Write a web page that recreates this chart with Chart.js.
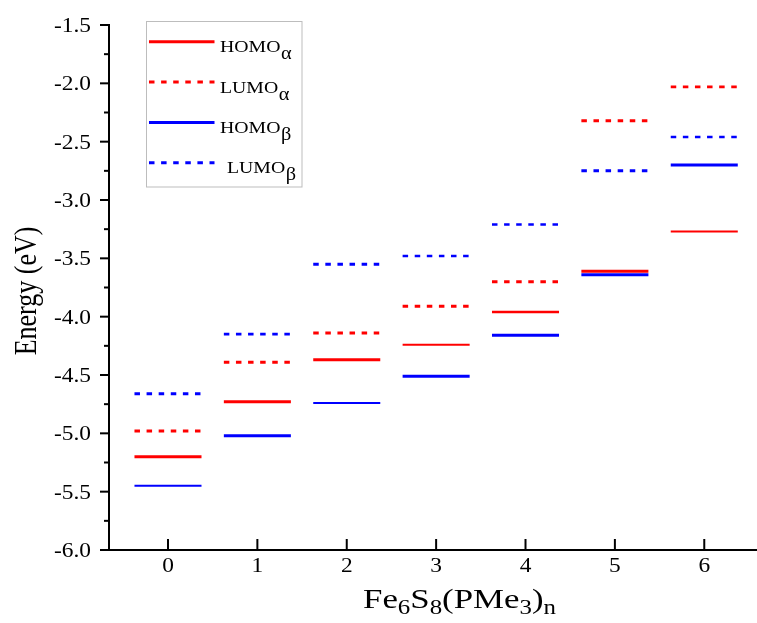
<!DOCTYPE html>
<html>
<head>
<meta charset="utf-8">
<script src="https://cdn.jsdelivr.net/npm/chart.js@4.4.1/dist/chart.umd.min.js"></script>
<style>
html,body{margin:0;padding:0;background:#fff;}
#wrap{width:757px;height:623px;position:relative;}
#probe{position:absolute;left:-9999px;top:0;font-family:"Liberation Serif";font-size:20px;}
</style>
</head>
<body>
<div id="wrap"><canvas id="c" width="757" height="623"></canvas></div>
<span id="probe">Energy HOMO LUMO 0123456789 αβ</span>
<script>
// ---- data ----
const categories = [0, 1, 2, 3, 4, 5, 6];
const homoAlpha = [-5.20, -4.73, -4.37, -4.24, -3.96, -3.61, -3.27];
const lumoAlpha = [-4.98, -4.39, -4.14, -3.91, -3.70, -2.32, -2.03];
const homoBeta  = [-5.45, -5.02, -4.74, -4.51, -4.16, -3.64, -2.70];
const lumoBeta  = [-4.66, -4.15, -3.55, -3.48, -3.21, -2.75, -2.46];
const yTickValues = [-6.0, -5.5, -5.0, -4.5, -4.0, -3.5, -3.0, -2.5, -2.0, -1.5];
const yTickLabels = ['-6.0', '-5.5', '-5.0', '-4.5', '-4.0', '-3.5', '-3.0', '-2.5', '-2.0', '-1.5'];
const xTickLabels = ['0', '1', '2', '3', '4', '5', '6'];
const seriesMain = ['HOMO', 'LUMO', 'HOMO', 'LUMO'];
const seriesSub = ['\u03b1', '\u03b1', '\u03b2', '\u03b2'];
const yTitle = 'Energy (eV)';
const xTitleParts = [['Fe', false], ['6', true], ['S', false], ['8', true], ['(PMe', false], ['3', true], [')', false], ['n', true]];

// ---- style ----
const HW = 0.375;
const RED = '#ff0000', BLUE = '#0000ff';
const DASH = [5.5, 6.6];
const homoAlphaW = [3, 3, 3, 2, 2.6, 3, 2];
const homoBetaW  = [2, 3, 2, 3, 3, 3, 3];
const lumoAlphaW = [3, 3, 3, 3, 3, 3, 2.6];
const lumoBetaW  = [3, 2.6, 3, 2.4, 2.6, 3, 2.6];
const FAM = 'Liberation Serif';
const SERIF = '"Liberation Serif", serif';
const SX = 1.17;

function segs(vals) {
  const out = [];
  categories.forEach((n, i) => {
    out.push({x: n - HW, y: vals[i]}, {x: n + HW, y: vals[i]}, {x: n + HW, y: null});
  });
  return out;
}
function mk(label, vals, color, dash, widths) {
  return {
    label: label, data: segs(vals), borderColor: color, backgroundColor: color,
    borderDash: dash, borderWidth: 3, pointRadius: 0, fill: false, tension: 0,
    spanGaps: false, borderCapStyle: 'butt',
    segment: { borderWidth: ctx => widths[Math.floor(ctx.p0DataIndex / 3)] }
  };
}

function sText(ctx, str, x, y, font, sx, align) {
  ctx.save();
  ctx.translate(x, y);
  ctx.scale(sx, 1);
  ctx.font = font;
  ctx.textAlign = align || 'left';
  ctx.textBaseline = 'alphabetic';
  ctx.fillText(str, 0, 0);
  ctx.restore();
}

const decor = {
  id: 'decor',
  afterDraw(chart) {
    const ctx = chart.ctx, xs = chart.scales.x, ys = chart.scales.y;
    const left = chart.chartArea.left;
    const y0 = ys.getPixelForValue(-6.0), yTop = ys.getPixelForValue(-1.5);
    ctx.save();
    ctx.strokeStyle = '#000'; ctx.fillStyle = '#000'; ctx.lineCap = 'butt';
    ctx.lineWidth = 2;
    ctx.beginPath();
    ctx.moveTo(left, yTop - 1); ctx.lineTo(left, y0);
    ctx.moveTo(left - 9, y0); ctx.lineTo(chart.width, y0);
    ctx.stroke();
    yTickValues.forEach((v, i) => {
      const p = ys.getPixelForValue(v);
      ctx.beginPath(); ctx.moveTo(left - 9, p); ctx.lineTo(left, p); ctx.stroke();
      if (i < yTickValues.length - 1) {
        const pm = ys.getPixelForValue(v + 0.25);
        ctx.beginPath(); ctx.moveTo(left - 5, pm); ctx.lineTo(left, pm); ctx.stroke();
      }
      sText(ctx, yTickLabels[i], 91, p + 7, '20px ' + SERIF, SX, 'right');
    });
    categories.forEach((n, i) => {
      const p = xs.getPixelForValue(n);
      ctx.beginPath(); ctx.moveTo(p, y0); ctx.lineTo(p, y0 - 11); ctx.stroke();
      sText(ctx, xTickLabels[i], p, 572, '20px ' + SERIF, SX, 'center');
    });
    ctx.save();
    ctx.translate(28, 291);
    ctx.scale(1.18, 1);
    ctx.rotate(-Math.PI / 2);
    ctx.font = '26px ' + SERIF;
    ctx.textAlign = 'center'; ctx.textBaseline = 'middle';
    ctx.fillText(yTitle, 0, 0);
    ctx.restore();
    const mainF = '28px ' + SERIF, subF = '20px ' + SERIF;
    let natural = 0;
    xTitleParts.forEach(([t, s]) => { ctx.font = s ? subF : mainF; natural += ctx.measureText(t).width; });
    const xsx = 193 / natural;
    let cx = 363;
    xTitleParts.forEach(([t, s]) => {
      ctx.font = s ? subF : mainF;
      const w = ctx.measureText(t).width * xsx;
      sText(ctx, t, cx, s ? 614 : 608, s ? subF : mainF, xsx, 'left');
      cx += w;
    });
    ctx.strokeStyle = '#bdbdbd'; ctx.lineWidth = 1;
    ctx.strokeRect(146.5, 21.5, 155.5, 165.5);
    const rows = [41.7, 82, 122.5, 162.7];
    const textX = [220, 220, 220, 227];
    chart.data.datasets.forEach((ds, i) => {
      const y = rows[i];
      ctx.save();
      ctx.strokeStyle = ds.borderColor; ctx.lineWidth = 3;
      ctx.setLineDash(ds.borderDash || []);
      ctx.beginPath(); ctx.moveTo(149, y); ctx.lineTo(214.5, y); ctx.stroke();
      ctx.restore();
      ctx.fillStyle = '#000';
      const f = '17.5px ' + SERIF;
      ctx.font = f;
      const w = ctx.measureText(seriesMain[i]).width * 1.13;
      sText(ctx, seriesMain[i], textX[i], y + 10.5, f, 1.13, 'left');
      sText(ctx, seriesSub[i], textX[i] + w + 0.5, y + 17.5, '18px ' + SERIF, 1.13, 'left');
    });
    ctx.restore();
  }
};

function build() {
  new Chart(document.getElementById('c'), {
    type: 'line',
    data: {
      datasets: [
        mk('HOMOα', homoAlpha, RED, [], homoAlphaW),
        mk('LUMOα', lumoAlpha, RED, DASH, lumoAlphaW),
        mk('HOMOβ', homoBeta, BLUE, [], homoBetaW),
        mk('LUMOβ', lumoBeta, BLUE, DASH, lumoBetaW)
      ]
    },
    options: {
      responsive: false, devicePixelRatio: 1, animation: false,
      layout: { padding: { left: 109, right: 0, top: 25, bottom: 73 } },
      scales: {
        x: { type: 'linear', min: -0.66, max: 6.59, display: false },
        y: { type: 'linear', min: -6.0, max: -1.5, display: false }
      },
      plugins: { legend: { display: false }, tooltip: { enabled: false } },
      elements: { point: { radius: 0 } }
    },
    plugins: [decor]
  });
}
let started = false;
function go() { if (!started) { started = true; build(); } }
if (document.fonts && document.fonts.load) {
  Promise.all([
    document.fonts.load('20px "' + FAM + '"'),
    document.fonts.load('28px "' + FAM + '"')
  ]).then(go, go);
  setTimeout(go, 800);
} else { go(); }
</script>
</body>
</html>
